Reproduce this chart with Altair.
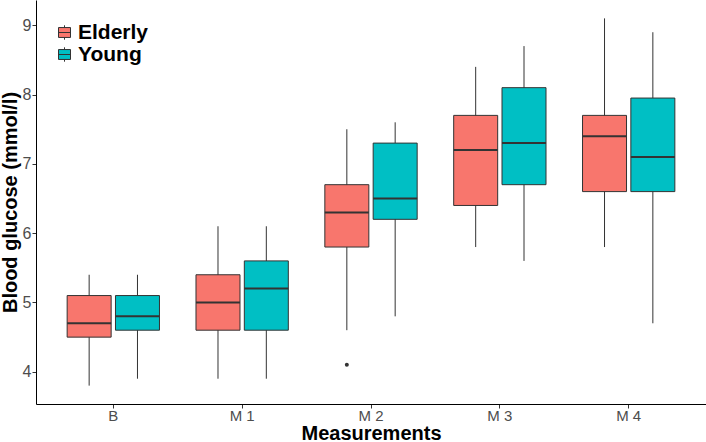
import altair as alt
import pandas as pd

# Measurement occasions and groups
measurements = ["B", "M 1", "M 2", "M 3", "M 4"]
groups = ["Elderly", "Young"]
group_colors = ["#F8766D", "#00BFC4"]

# Box statistics (mmol/l) per measurement occasion
elderly_lower = [3.8, 3.9, 4.6, 5.8, 5.8]
elderly_q1 = [4.5, 4.6, 5.8, 6.4, 6.6]
elderly_median = [4.7, 5.0, 6.3, 7.2, 7.4]
elderly_q3 = [5.1, 5.4, 6.7, 7.7, 7.7]
elderly_upper = [5.4, 6.1, 7.5, 8.4, 9.1]

young_lower = [3.9, 3.9, 4.8, 5.6, 4.7]
young_q1 = [4.6, 4.6, 6.2, 6.7, 6.6]
young_median = [4.8, 5.2, 6.5, 7.3, 7.1]
young_q3 = [5.1, 5.6, 7.3, 8.1, 7.95]
young_upper = [5.4, 6.1, 7.6, 8.7, 8.9]

# Outlying observations
outlier_measurement = ["M 2"]
outlier_group = ["Elderly"]
outlier_value = [4.1]

stats = {
    "Elderly": (elderly_lower, elderly_q1, elderly_median, elderly_q3, elderly_upper),
    "Young": (young_lower, young_q1, young_median, young_q3, young_upper),
}
rows = []
for g in groups:
    lo, q1, med, q3, hi = stats[g]
    for i, m in enumerate(measurements):
        rows.append({"measurement": m, "group": g, "lower": lo[i], "q1": q1[i],
                     "median": med[i], "q3": q3[i], "upper": hi[i]})
box_df = pd.DataFrame(rows)
out_df = pd.DataFrame({"measurement": outlier_measurement, "group": outlier_group,
                       "value": outlier_value})

x_enc = alt.X("measurement:N", sort=measurements,
              scale=alt.Scale(domain=measurements, paddingInner=0, paddingOuter=0.1),
              axis=alt.Axis(title="Measurements", labelAngle=0, labelFontSize=15,
                            labelPadding=0))
xoff_enc = alt.XOffset("group:N", sort=groups,
                       scale=alt.Scale(domain=groups, paddingInner=0, paddingOuter=0.333))
y_scale = alt.Scale(domain=[3.535, 9.365], nice=False, zero=False)
y_axis = alt.Axis(title="Blood glucose (mmol/l)", values=[4, 5, 6, 7, 8, 9],
                  titleX=-20, titleY=202, titleBaseline="alphabetic", titleAngle=-90)

# Legend key drawn as a small box-and-whisker glyph
glyph = ("M-0.75,-0.62H0.75V0.62H-0.75Z M0,-0.62V-0.9 M0,0.62V0.9 M-0.75,0H0.75")

base = alt.Chart(box_df).encode(x=x_enc, xOffset=xoff_enc)

whiskers = base.mark_rule(color="#333333", strokeWidth=1).encode(
    y=alt.Y("lower:Q", scale=y_scale, axis=y_axis), y2="upper:Q")

boxes = base.mark_bar(size=44, stroke="#333333", strokeWidth=1).encode(
    y=alt.Y("q1:Q", scale=y_scale, axis=y_axis), y2="q3:Q",
    fill=alt.Fill("group:N", sort=groups,
                  scale=alt.Scale(domain=groups, range=group_colors),
                  legend=alt.Legend(title=None, orient="none", legendX=18, legendY=22,
                                    symbolType=glyph, symbolSize=256,
                                    symbolStrokeColor="#333333", symbolStrokeWidth=1,
                                    labelFontSize=21, labelFontWeight="bold",
                                    labelColor="#000000", labelOffset=3,
                                    rowPadding=0, padding=0)))

medians = base.mark_tick(size=44, thickness=2, color="#333333", opacity=1).encode(
    y=alt.Y("median:Q", scale=y_scale, axis=y_axis))

outliers = alt.Chart(out_df).mark_circle(size=16, color="#333333", opacity=1).encode(
    x=x_enc, xOffset=xoff_enc, y=alt.Y("value:Q", scale=y_scale, axis=y_axis))

chart = alt.layer(whiskers, boxes, medians, outliers).properties(
    width=670, height=404,
    autosize=alt.AutoSizeParams(type="none"),
    padding={"left": 36, "top": 0, "right": 0, "bottom": 38},
).configure_view(stroke=None).configure_axis(
    grid=False, domainColor="#000000", domainWidth=1,
    tickColor="#333333", tickSize=4, tickWidth=1,
    labelColor="#4d4d4d", labelFontSize=16, labelFont="Liberation Sans", labelPadding=1,
    titleFont="Liberation Sans", titleFontSize=20, titleFontWeight="bold", titleColor="#000000",
).configure_axisX(titleY=35, titleBaseline="alphabetic").configure_legend(
    labelFont="Liberation Sans")

chart.save("out.html", embed_options={"renderer": "svg", "actions": False})
